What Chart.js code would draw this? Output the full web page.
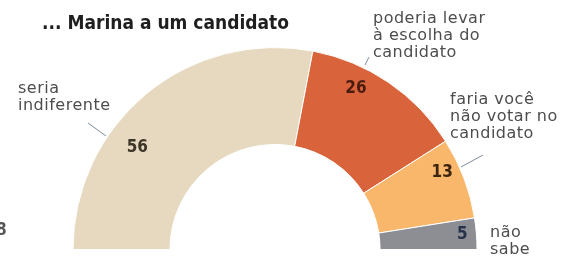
<!DOCTYPE html>
<html lang="pt">
<head>
    <meta charset="UTF-8">
    <title>Marina a um candidato</title>
    <script src="https://cdn.jsdelivr.net/npm/chart.js"></script>
    <style>
        body {
            margin: 0;
            background: #fff;
        }
        #wrap {
            position: relative;
            width: 567px;
            height: 260px;
        }
    </style>
</head>
<body>
    <div id="wrap">
        <canvas id="halfChart" width="567" height="260"></canvas>
    </div>

    <script>
        // Data
        const categories = [
            ['seria', 'indiferente'],
            ['poderia levar', 'à escolha do', 'candidato'],
            ['faria você', 'não votar no', 'candidato'],
            ['não', 'sabe']
        ];
        const values = [56, 26, 13, 5];
        const title = '... Marina a um candidato';

        const sliceColors = ['#e6d9c0', '#d9643b', '#f8b76b', '#8d8e94'];
        const numberColors = ['#3d3526', '#4a1c10', '#3c2510', '#27324a'];
        const TITLE_FONT = '"DejaVu Sans Condensed", "Liberation Sans Narrow", sans-serif';
        const LABEL_FONT = '"DejaVu Sans", sans-serif';

        // where each category label sits, and its leader line
        const labelSpots = [
            { x: 18, y: 81, line: [[88, 123], [106, 136]] },
            { x: 373, y: 11, line: [[365, 65], [369, 57]] },
            { x: 450, y: 92, line: [[461, 167], [483, 155]] },
            { x: 490, y: 225, line: null }
        ];
        // placement of the numbers inside the arc: angle nudge (deg) and inset from the rim (px)
        const numberNudge = [14, 7.5, 4, 0];
        const numberInset = [31, 22, 18, 14];

        const textPlugin = {
            id: 'textPlugin',
            afterDatasetsDraw(chart) {
                const ctx = chart.ctx;
                const arcs = chart.getDatasetMeta(0).data;
                ctx.save();

                // title
                ctx.fillStyle = '#1f1f1f';
                ctx.font = 'bold 19px ' + TITLE_FONT;
                ctx.textAlign = 'left';
                ctx.textBaseline = 'alphabetic';
                ctx.fillText(title, 42, 29);

                // numbers
                ctx.font = 'bold 17px ' + TITLE_FONT;
                ctx.textAlign = 'center';
                ctx.textBaseline = 'middle';
                arcs.forEach((arc, i) => {
                    const p = arc.getProps(['x', 'y', 'startAngle', 'endAngle', 'outerRadius'], true);
                    const mid = (p.startAngle + p.endAngle) / 2 - numberNudge[i] * Math.PI / 180;
                    const r = p.outerRadius - numberInset[i];
                    ctx.fillStyle = numberColors[i];
                    ctx.fillText(values[i], p.x + Math.cos(mid) * r, p.y + Math.sin(mid) * r);
                });

                // category labels
                ctx.font = '16px ' + LABEL_FONT;
                ctx.letterSpacing = '0.5px';
                ctx.textAlign = 'left';
                ctx.textBaseline = 'top';
                ctx.fillStyle = '#4d4d4d';
                categories.forEach((lines, i) => {
                    const s = labelSpots[i];
                    lines.forEach((t, k) => ctx.fillText(t, s.x, s.y + k * 17));
                    if (s.line) {
                        ctx.strokeStyle = '#7d8c9c';
                        ctx.lineWidth = 1;
                        ctx.beginPath();
                        ctx.moveTo(s.line[0][0], s.line[0][1]);
                        ctx.lineTo(s.line[1][0], s.line[1][1]);
                        ctx.stroke();
                    }
                });
                ctx.letterSpacing = '0px';

                // cut-off figure from the neighbouring chart
                ctx.fillStyle = '#555555';
                ctx.font = 'bold 17px ' + TITLE_FONT;
                ctx.textBaseline = 'middle';
                ctx.fillText('8', -4, 231);

                ctx.restore();
            }
        };

        new Chart(document.getElementById('halfChart'), {
            type: 'doughnut',
            data: {
                labels: categories.map(c => c.join(' ')),
                datasets: [{
                    data: values,
                    backgroundColor: sliceColors,
                    borderColor: '#ffffff',
                    borderWidth: 1
                }]
            },
            options: {
                responsive: false,
                animation: false,
                rotation: -90,
                circumference: 180,
                cutout: '52%',
                layout: {
                    padding: { left: 72, right: 89, top: 47, bottom: 10 }
                },
                plugins: {
                    legend: { display: false },
                    tooltip: { enabled: false }
                }
            },
            plugins: [textPlugin]
        });
    </script>
</body>
</html>
